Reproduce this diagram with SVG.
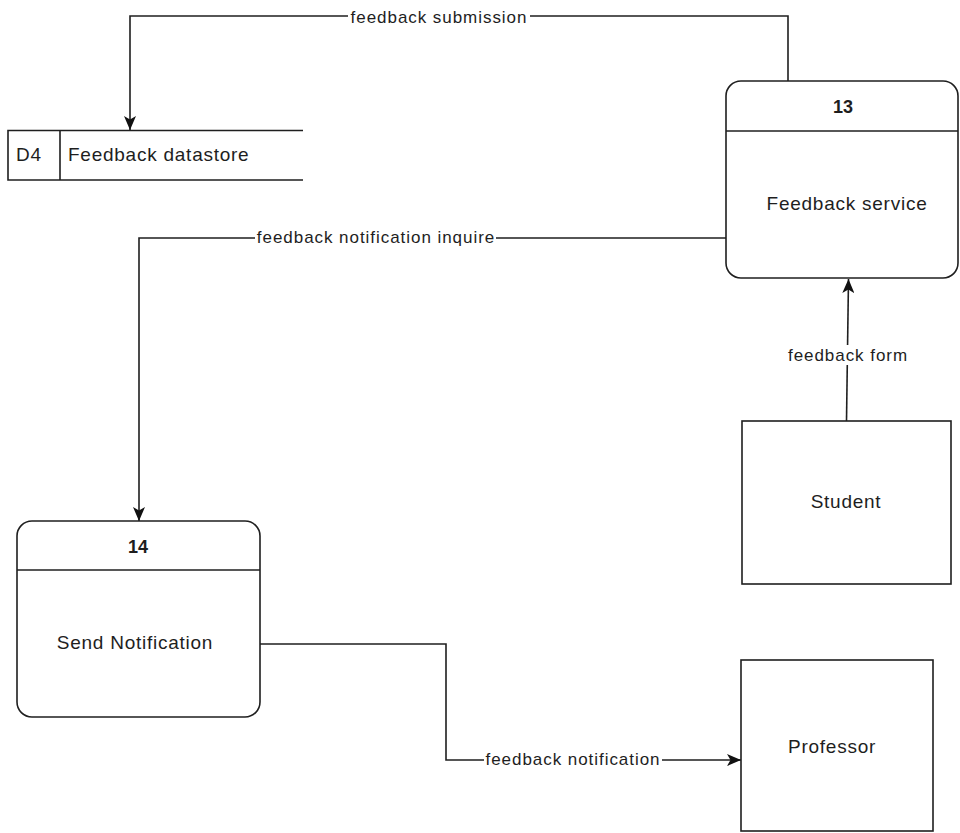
<svg xmlns="http://www.w3.org/2000/svg" width="960" height="833" viewBox="0 0 960 833">
  <style>
    .shape { fill: #ffffff; stroke: #1f1f1f; stroke-width: 1.6; }
    .line { fill: none; stroke: #1f1f1f; stroke-width: 1.6; }
    .flow { fill: none; stroke: #1f1f1f; stroke-width: 1.6; marker-end: url(#arrow); }
    .lbl { font-family: "Liberation Sans", Arial, sans-serif; font-size: 19px; letter-spacing: 0.75px; fill: #1e1e1e; }
    .num { font-family: "Liberation Sans", Arial, sans-serif; font-size: 18px; font-weight: bold; fill: #1e1e1e; text-anchor: middle; }
    .elbl { font-family: "Liberation Sans", Arial, sans-serif; font-size: 17px; letter-spacing: 0.95px; fill: #1e1e1e; text-anchor: middle; }
    .bg { fill: #ffffff; }
  </style>
  <defs>
    <marker id="arrow" viewBox="0 0 14 12" refX="14" refY="6" markerWidth="14" markerHeight="12" markerUnits="userSpaceOnUse" orient="auto">
      <path d="M0,0 L14,6 L0,12 L3.5,6 Z" fill="#111111"/>
    </marker>
  </defs>

  <rect width="960" height="833" fill="#ffffff"/>

  <!-- data flows -->
  <g id="connectors">
    <path class="flow" d="M788,81 V16 H130 V130"/>
    <rect class="bg" x="348" y="7" width="182" height="20"/>
    <text class="elbl" x="439" y="23">feedback submission</text>

    <path class="flow" d="M726,238 H139 V521"/>
    <rect class="bg" x="255" y="228" width="241" height="20"/>
    <text class="elbl" x="376" y="243">feedback notification inquire</text>

    <path class="flow" d="M846.5,421 L848.5,279"/>
    <rect class="bg" x="786" y="345" width="124" height="20"/>
    <text class="elbl" x="848" y="361">feedback form</text>

    <path class="flow" d="M260,644 H446 V760 H741"/>
    <rect class="bg" x="484" y="750" width="178" height="20"/>
    <text class="elbl" x="573" y="765">feedback notification</text>
  </g>

  <!-- datastore D4 -->
  <g id="d4-feedback-datastore">
    <path class="line" d="M303,130.5 H8 V180 H303 M60,130.5 V180"/>
    <text class="lbl" x="16" y="161">D4</text>
    <text class="lbl" x="68" y="161">Feedback datastore</text>
  </g>

  <!-- process 13 -->
  <g id="p13-feedback-service">
    <rect class="shape" x="726" y="81" width="232" height="197" rx="15" ry="15"/>
    <line class="line" x1="726" y1="131" x2="958" y2="131"/>
    <text class="num" x="843" y="113">13</text>
    <text class="lbl" x="847" y="210" text-anchor="middle">Feedback service</text>
  </g>

  <!-- process 14 -->
  <g id="p14-send-notification">
    <rect class="shape" x="17" y="521" width="243" height="196" rx="15" ry="15"/>
    <line class="line" x1="17" y1="570" x2="260" y2="570"/>
    <text class="num" x="138" y="553">14</text>
    <text class="lbl" x="135" y="649" text-anchor="middle">Send Notification</text>
  </g>

  <!-- external entity: Student -->
  <g id="student">
    <rect class="shape" x="742" y="421" width="209" height="163"/>
    <text class="lbl" x="846" y="508" text-anchor="middle">Student</text>
  </g>

  <!-- external entity: Professor -->
  <g id="professor">
    <rect class="shape" x="741" y="660" width="192" height="171"/>
    <text class="lbl" x="832" y="753" text-anchor="middle">Professor</text>
  </g>
</svg>
